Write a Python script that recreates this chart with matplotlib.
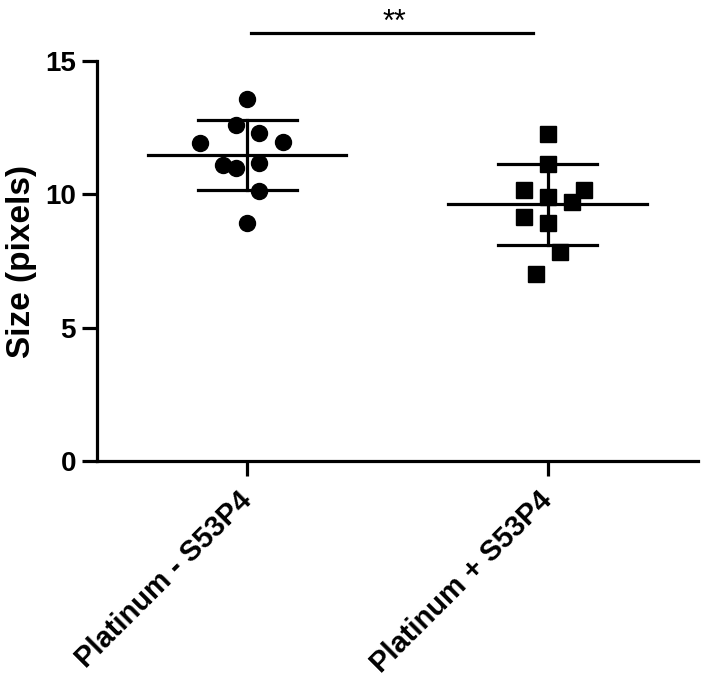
import matplotlib.pyplot as plt
import numpy as np

plt.rcParams['font.family'] = ['Liberation Sans', 'DejaVu Sans']

# groups and measured sizes (pixels)
groups = ['Platinum - S53P4', 'Platinum + S53P4']
minus_vals = [13.56, 12.60, 12.29, 11.94, 11.97, 11.10, 10.97, 11.16, 10.14, 8.91]
plus_vals = [12.26, 11.14, 10.16, 10.16, 9.89, 9.72, 9.14, 8.91, 7.83, 7.01]
# horizontal scatter of the points inside each column
minus_jit = [0.0, -0.037, 0.041, -0.157, 0.121, -0.081, -0.037, 0.041, 0.041, 0.0]
plus_jit = [0.0, 0.0, -0.079, 0.121, 0.0, 0.08, -0.079, 0.0, 0.041, -0.039]
yticks = [0, 5, 10, 15]
sig_label = '**'

fig = plt.figure(figsize=(7.02, 6.78), dpi=100)
ax = fig.add_axes([0.138, 0.320, 0.856, 0.590])

lw = 2.3
series = [(minus_vals, minus_jit, 'o'), (plus_vals, plus_jit, 's')]
for i, (vals, jit, mk) in enumerate(series):
    vals = np.array(vals)
    m = vals.mean()
    sd = vals.std(ddof=1)
    ax.plot(i + np.array(jit), vals, linestyle='none', marker=mk, ms=11.5,
            color='black', zorder=3)
    ax.plot([i - 0.33, i + 0.33], [m, m], color='black', lw=lw, zorder=2)
    ax.plot([i, i], [m - sd, m + sd], color='black', lw=lw, zorder=2)
    for y in (m - sd, m + sd):
        ax.plot([i - 0.165, i + 0.165], [y, y], color='black', lw=lw, zorder=2)

# significance bar
ax.plot([0.013, 0.953], [16.05, 16.05], color='black', lw=lw, clip_on=False)
ax.text(0.491, 16.12, sig_label, ha='center', va='baseline', fontsize=22,
        clip_on=False)

ax.set_xlim(-0.5, 1.5)
ax.set_ylim(0, 15)
ax.set_yticks(yticks)
ax.set_xticks(range(len(groups)))
ax.set_xticklabels(groups, rotation=45, ha='right', va='center',
                   rotation_mode='anchor', fontsize=21, fontweight='bold')
for lab in ax.get_yticklabels():
    lab.set_fontsize(20)
    lab.set_fontweight('bold')
ax.set_ylabel('Size (pixels)', fontsize=24, fontweight='bold', labelpad=6)

for s in ['top', 'right']:
    ax.spines[s].set_visible(False)
for s in ['left', 'bottom']:
    ax.spines[s].set_linewidth(lw)
ax.tick_params(direction='out', length=11, width=lw, pad=4)
ax.tick_params(axis='x', pad=14)

fig.savefig('out.png', dpi=100)
